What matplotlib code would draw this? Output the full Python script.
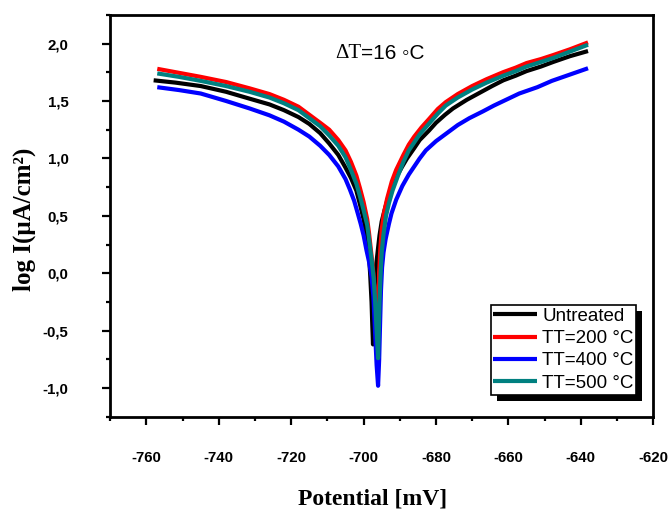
import numpy as np
import matplotlib
matplotlib.use("Agg")
import matplotlib.pyplot as plt
import matplotlib.patheffects as pe
from matplotlib.ticker import MultipleLocator, FuncFormatter

plt.rcParams["axes.unicode_minus"] = False

# Tafel curves: potential (mV) vs log current density
untreated_E = [-758, -752, -745, -738, -731.5, -726, -722, -718, -715, -712, -709.5, -707, -705,
               -703.5, -702, -701, -700, -699, -698.5, -698.2, -697.8, -697.6, -697.4,
               -697.2, -697.0, -696.6, -696.0, -695.6, -695.0, -694.2, -693.4, -692.5, -690.9,
               -689.5, -688, -686, -684.5, -682, -680, -677.5, -675.3, -671.5, -668, -664.5,
               -661.4, -658, -655, -651, -647.6, -643, -638]
untreated_logI = [1.68, 1.66, 1.63, 1.58, 1.52, 1.47, 1.42, 1.36, 1.30, 1.22, 1.13, 1.03, 0.92,
                  0.83, 0.72, 0.60, 0.47, 0.30, 0.15, 0.0, -0.25, -0.45, -0.62,
                  -0.35, -0.15, 0.05, 0.22, 0.33, 0.45, 0.55, 0.64, 0.72, 0.84,
                  0.92, 1.00, 1.09, 1.16, 1.24, 1.31, 1.38, 1.435, 1.51, 1.57, 1.63,
                  1.68, 1.72, 1.76, 1.80, 1.84, 1.89, 1.935]

tt200_E = [-757, -751, -745, -738, -731.5, -726, -722, -718, -715, -712, -709.5, -707, -705,
           -703.5, -702, -701, -700, -699, -698.5, -697.8, -697.3, -696.9, -696.6, -696.3,
           -696.1, -695.9, -695.7, -695.4, -695.0, -694.4, -693.5, -692.2, -691, -689, -687.5,
           -686, -684, -682, -679.5, -677.3, -674, -670, -666, -661.5, -658, -655, -651,
           -647.6, -643, -638]
tt200_logI = [1.78, 1.745, 1.71, 1.665, 1.61, 1.56, 1.51, 1.45, 1.38, 1.31, 1.25, 1.16, 1.07,
              0.97, 0.85, 0.74, 0.62, 0.47, 0.35, 0.15, 0.0, -0.20, -0.40, -0.65,
              -0.45, -0.20, 0.0, 0.20, 0.38, 0.52, 0.65, 0.80, 0.90, 1.03, 1.12,
              1.19, 1.27, 1.34, 1.43, 1.49, 1.56, 1.63, 1.69, 1.75, 1.79, 1.83, 1.865,
              1.90, 1.95, 2.01]

tt400_E = [-757, -751, -745, -738, -731.5, -726, -722, -718, -715, -712, -709.5, -707, -705,
           -703.8, -702.6, -701.6, -700.8, -700, -699.2, -698.5, -697.8, -697.3, -697, -696.7,
           -696.4, -696.0, -695.7, -695.5, -695.2, -694.9, -694.5, -693.9, -693.0, -692.3,
           -691, -689.3, -687.5, -686, -684.5, -682.8, -680, -677, -674, -670.8, -667, -664,
           -660, -657, -652, -648, -643, -638]
tt400_logI = [1.62, 1.595, 1.565, 1.50, 1.435, 1.375, 1.32, 1.25, 1.19, 1.11, 1.03, 0.93, 0.82,
              0.73, 0.63, 0.52, 0.43, 0.33, 0.20, 0.10, -0.03, -0.20, -0.40, -0.60,
              -0.80, -0.98, -0.75, -0.50, -0.15, 0.05, 0.18, 0.30, 0.43, 0.52,
              0.64, 0.76, 0.86, 0.93, 1.00, 1.07, 1.15, 1.22, 1.29, 1.35, 1.41, 1.46,
              1.52, 1.565, 1.62, 1.675, 1.73, 1.785]

tt500_E = [-757, -751, -745, -738, -731.5, -726, -722, -718, -715, -712, -709.5, -707, -705,
           -703.5, -702, -701, -700, -699, -698.5, -697.8, -697.2, -696.8, -696.4, -696.0,
           -695.8, -695.6, -695.3, -695.0, -694.5, -693.8, -693, -692, -690.5, -689, -687.5,
           -686, -684.5, -682, -679.5, -677.3, -674, -670, -666, -661.4, -658, -655, -651,
           -647.6, -643, -638]
tt500_logI = [1.74, 1.71, 1.675, 1.63, 1.58, 1.53, 1.48, 1.42, 1.35, 1.28, 1.20, 1.11, 1.01,
              0.90, 0.78, 0.67, 0.55, 0.42, 0.30, 0.12, -0.05, -0.25, -0.50, -0.74,
              -0.50, -0.25, 0.0, 0.18, 0.34, 0.50, 0.61, 0.72, 0.85, 0.97, 1.07,
              1.14, 1.21, 1.30, 1.39, 1.46, 1.53, 1.60, 1.66, 1.72, 1.76, 1.80, 1.84,
              1.875, 1.93, 1.99]

series = [
    ("Untreated", untreated_E, untreated_logI, "black"),
    ("TT=200 °C", tt200_E, tt200_logI, "#ff0000"),
    ("TT=400 °C", tt400_E, tt400_logI, "#0000ff"),
    ("TT=500 °C", tt500_E, tt500_logI, "#008080"),
]

fig = plt.figure(figsize=(6.72, 5.12), dpi=100)
ax = fig.add_axes([0.164, 0.186, 0.808, 0.785])

for label, E, logI, color in series:
    ax.plot(E, logI, color=color, lw=3, label=label,
            solid_capstyle="butt", solid_joinstyle="round")

ax.set_xlim(-770, -620)
ax.set_ylim(-1.25, 2.25)
ax.xaxis.set_major_locator(MultipleLocator(20))
ax.xaxis.set_minor_locator(MultipleLocator(10))
ax.yaxis.set_major_locator(MultipleLocator(0.5))
ax.yaxis.set_minor_locator(MultipleLocator(0.25))
ax.yaxis.set_major_formatter(FuncFormatter(lambda v, p: f"{v:.1f}".replace(".", ",").replace("-0,0", "0,0")))

for s in ax.spines.values():
    s.set_linewidth(2.0)
ax.tick_params(which="major", direction="out", length=6, width=1.6)
ax.tick_params(which="minor", direction="out", length=3, width=1.6)
ax.tick_params(axis="x", which="major", pad=19)
ax.tick_params(axis="y", which="major", pad=24)
for t in ax.get_xticklabels() + ax.get_yticklabels():
    t.set_fontfamily("Liberation Sans")
    t.set_fontweight("bold")
    t.set_fontsize(10.8)

fig.text(373 / 672, 1 - 505 / 512, "Potential [mV]", ha="center", va="baseline",
         family="Liberation Serif", fontweight="bold", fontsize=17)
fig.text(24 / 672, 1 - 219 / 512, "log I(μA/cm²)", ha="center", va="center", rotation=90,
         family="Liberation Serif", fontweight="bold", fontsize=18)

# ΔT label: serif delta-T followed by sans text
t1 = ax.text(-707.8, 1.87, "ΔT", family="Liberation Serif", fontsize=15, va="baseline")
ax.annotate("=16 ◦C", xy=(1, 0), xycoords=t1, va="bottom", ha="left",
            family=["Liberation Sans", "DejaVu Sans"], fontsize=15)

leg = ax.legend(loc="lower right", bbox_to_anchor=(0.969, 0.055),
                prop={"family": "Liberation Sans", "size": 13.5},
                frameon=True, fancybox=False, framealpha=1, edgecolor="black",
                borderpad=0.15, labelspacing=0.28, handlelength=2.3, handletextpad=0.3,
                borderaxespad=0)
leg.get_frame().set_linewidth(1.2)
leg.get_frame().set_path_effects([
    pe.SimplePatchShadow(offset=(4.3, -4.3), shadow_rgbFace="black", alpha=1.0),
    pe.Normal(),
])

fig.savefig("out.png", dpi=100)
